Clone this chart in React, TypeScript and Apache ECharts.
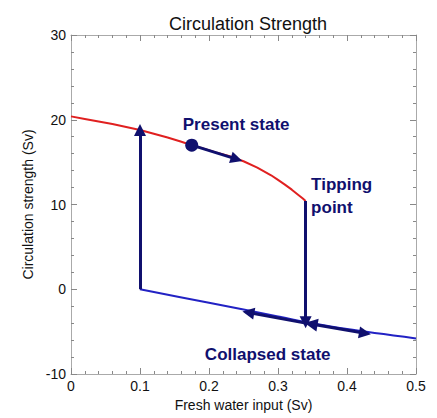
import React, { useEffect, useRef } from 'react';
import * as echarts from 'echarts';

const redX = [0, 0.02, 0.04, 0.06, 0.08, 0.1, 0.12, 0.14, 0.16, 0.175, 0.19, 0.21, 0.23, 0.25, 0.27, 0.29, 0.3, 0.31, 0.32, 0.33, 0.336, 0.34];
const redY = [20.4, 20.1, 19.8, 19.5, 19.15, 18.8, 18.35, 17.9, 17.4, 17.0, 16.65, 16.15, 15.7, 15.1, 14.35, 13.45, 12.9, 12.35, 11.75, 11.1, 10.7, 10.4];
const blueX = [0.1, 0.2, 0.3, 0.34, 0.4, 0.5];
const blueY = [0, -1.6, -3.2, -3.85, -4.7, -5.8];
const presentPoint = [0.175, 17.0];
const upArrow = [[0.1, 0], [0.1, 18.8]];
const downArrow = [[0.34, 10.4], [0.34, -3.9]];
const presentArrow = [[0.175, 17.0], [0.24, 15.35]];
const leftArrow = [[0.34, -4.0], [0.257, -2.75]];
const doubleArrow = [[0.348, -4.1], [0.426, -5.2]];
const labels = [
  { text: 'Present state', pos: [0.162, 19.4] },
  { text: 'Tipping\npoint', pos: [0.348, 11.0] },
  { text: 'Collapsed state', pos: [0.194, -7.65] },
];

const NAVY = '#10106e';
const FONT = '"Liberation Sans", Arial, sans-serif';

export default function App() {
  const ref = useRef<HTMLDivElement>(null);
  useEffect(() => {
    if (!ref.current) return;
    const chart = echarts.init(ref.current, undefined, { renderer: 'svg' });
    const axisCommon = {
      axisLine: { show: true, onZero: false, lineStyle: { color: '#aaaaaa', width: 1 } },
      axisTick: { show: true, inside: true, length: 6, lineStyle: { color: '#888888' } },
      minorTick: { show: true, splitNumber: 5, length: 3, lineStyle: { color: '#888888' } },
      splitLine: { show: false },
    };
    const xBase = { type: 'value', min: 0, max: 0.5, interval: 0.1, ...axisCommon };
    const yBase = { type: 'value', min: -10, max: 30, interval: 10, ...axisCommon };
    chart.setOption({
      animation: false,
      title: {
        text: 'Circulation Strength',
        left: 243,
        textAlign: 'center',
        top: 10,
        textStyle: { fontFamily: FONT, fontSize: 18, fontWeight: 'normal', color: '#111' },
      },
      grid: { left: 71, right: 21, top: 35, bottom: 44 },
      xAxis: [
        {
          ...xBase,
          position: 'bottom',
          name: 'Fresh water input (Sv)',
          nameLocation: 'middle',
          nameGap: 14,
          nameTextStyle: { fontFamily: FONT, fontSize: 14, color: '#111', verticalAlign: 'top' },
          axisLabel: { fontFamily: FONT, fontSize: 14, color: '#111', margin: 5 },
        },
        { ...xBase, position: 'top', axisLabel: { show: false } },
      ],
      yAxis: [
        {
          ...yBase,
          position: 'left',
          name: 'Circulation strength (Sv)',
          nameLocation: 'middle',
          nameGap: 33,
          nameTextStyle: { fontFamily: FONT, fontSize: 14, color: '#111' },
          axisLabel: { fontFamily: FONT, fontSize: 14, color: '#111', margin: 5 },
        },
        { ...yBase, position: 'right', axisLabel: { show: false } },
      ],
      series: [
        {
          type: 'line',
          data: redX.map((x, i) => [x, redY[i]]),
          symbol: 'none',
          smooth: false,
          lineStyle: { color: '#e02020', width: 2, join: 'round' },
          z: 2,
        },
        {
          type: 'line',
          data: blueX.map((x, i) => [x, blueY[i]]),
          symbol: 'none',
          smooth: 0.3,
          lineStyle: { color: '#2222c4', width: 2 },
          z: 2,
        },
        {
          type: 'lines',
          coordinateSystem: 'cartesian2d',
          symbol: ['none', 'triangle'],
          symbolSize: [13, 12],
          lineStyle: { color: NAVY, width: 3, opacity: 1, curveness: 0 },
          itemStyle: { color: NAVY },
          data: [upArrow, downArrow, presentArrow, leftArrow].map((c) => ({ coords: c })),
          z: 3,
        },
        {
          type: 'lines',
          coordinateSystem: 'cartesian2d',
          symbol: ['triangle', 'triangle'],
          symbolSize: [13, 12],
          lineStyle: { color: NAVY, width: 3, opacity: 1, curveness: 0 },
          data: [{ coords: doubleArrow }],
          z: 3,
        },
        {
          type: 'scatter',
          data: [presentPoint],
          symbol: 'circle',
          symbolSize: 13,
          itemStyle: { color: NAVY, opacity: 1 },
          z: 4,
        },
        {
          type: 'scatter',
          symbolSize: 0,
          itemStyle: { opacity: 1 },
          data: labels.map((l) => ({ value: l.pos, name: l.text })),
          label: {
            show: true,
            position: 'right',
            distance: 0,
            formatter: (p: any) => p.name,
            fontFamily: FONT,
            fontSize: 17,
            fontWeight: 'bold',
            color: NAVY,
            lineHeight: 23,
          },
          z: 5,
        },
      ],
    });
    return () => chart.dispose();
  }, []);
  return (
    <div
      ref={ref}
      style={{ position: 'absolute', left: 0, top: 0, width: 437, height: 418 }}
    />
  );
}
